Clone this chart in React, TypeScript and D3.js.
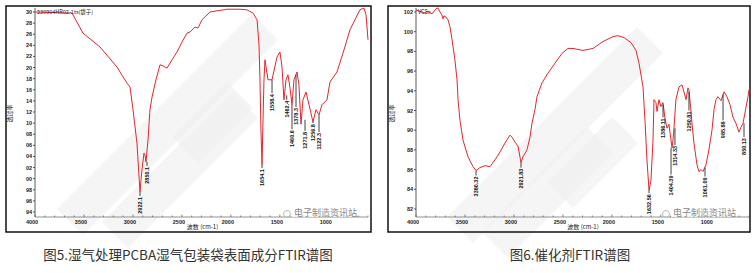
import React from "react";
import * as d3 from "d3";

// ---------- Data ----------
const xTickValues = [4000, 3500, 3000, 2500, 2000, 1500, 1000];

const leftYTicks = [1.30, 1.28, 1.26, 1.24, 1.22, 1.20, 1.18, 1.16, 1.14, 1.12, 1.10, 1.08, 1.06, 1.04, 1.02, 1.00, 0.98, 0.96, 0.94];
const leftYTickLabels = ["30", "28", "26", "24", "22", "20", "18", "16", "14", "12", "10", "08", "06", "04", "02", "00", "98", "96", "94"];

const rightYTicks = [1.02, 1.00, 0.98, 0.96, 0.94, 0.92, 0.90, 0.88, 0.86, 0.84, 0.82];
const rightYTickLabels = ["102", "100", "98", "96", "94", "92", "90", "88", "86", "84", "82"];

const leftWavenumber = [4000, 3622, 3510, 3336, 3163, 3061, 3030, 2999, 2959, 2928, 2908, 2887, 2877, 2867, 2846, 2826, 2805, 2765, 2724, 2693, 2652, 2601, 2550, 2499, 2448, 2417, 2366, 2336, 2295, 2213, 2040, 1907, 1836, 1774, 1733, 1713, 1703, 1693, 1682, 1672, 1662, 1652, 1621, 1580, 1529, 1499, 1478, 1458, 1437, 1417, 1396, 1376, 1356, 1325, 1305, 1284, 1264, 1233, 1202, 1162, 1131, 1100, 1070, 1019, 988, 917, 855, 784, 733, 682, 641, 620, 600];
const leftTransmittance = [1.300, 1.298, 1.262, 1.237, 1.201, 1.172, 1.165, 1.124, 1.064, 0.976, 1.016, 1.046, 1.043, 1.030, 1.070, 1.124, 1.147, 1.178, 1.205, 1.203, 1.199, 1.214, 1.228, 1.246, 1.262, 1.264, 1.273, 1.271, 1.286, 1.300, 1.305, 1.305, 1.304, 1.298, 1.286, 1.241, 1.178, 1.088, 1.025, 1.106, 1.178, 1.214, 1.178, 1.178, 1.219, 1.228, 1.201, 1.142, 1.178, 1.187, 1.163, 1.133, 1.178, 1.192, 1.169, 1.098, 1.142, 1.156, 1.133, 1.102, 1.124, 1.115, 1.133, 1.142, 1.174, 1.192, 1.226, 1.268, 1.286, 1.304, 1.307, 1.295, 1.250];

const leftPeakWavenumber = [2928, 2856, 1682, 1580, 1430, 1376, 1335, 1243, 1162, 1100];
const leftPeakT = [0.976, 1.030, 1.025, 1.178, 1.150, 1.133, 1.187, 1.106, 1.102, 1.115];
const leftLabelT = [0.969, 1.023, 1.019, 1.154, 1.142, 1.089, 1.129, 1.086, 1.100, 1.084];
const leftPeakText = ["2922.1", "2850.1", "1654.1", "1558.4", "1462.4", "1460.6", "1378.3", "1271.8", "1256.8", "1122.3"];

const rightWavenumber = [4000, 3939, 3908, 3877, 3837, 3806, 3786, 3775, 3755, 3735, 3724, 3714, 3694, 3673, 3653, 3632, 3602, 3581, 3571, 3551, 3520, 3469, 3418, 3387, 3347, 3296, 3244, 3193, 3142, 3091, 3040, 3020, 2989, 2959, 2928, 2908, 2867, 2836, 2816, 2785, 2765, 2714, 2652, 2581, 2509, 2448, 2397, 2295, 2193, 2091, 1989, 1938, 1876, 1805, 1754, 1723, 1682, 1662, 1642, 1621, 1601, 1580, 1570, 1550, 1539, 1519, 1499, 1478, 1458, 1437, 1417, 1407, 1386, 1376, 1366, 1346, 1315, 1284, 1264, 1243, 1223, 1213, 1192, 1182, 1162, 1131, 1111, 1090, 1070, 1039, 1009, 978, 957, 937, 917, 886, 855, 825, 794, 763, 733, 702, 682, 661, 631, 610, 600];
const rightTransmittance = [1.022, 1.020, 1.019, 1.021, 1.018, 1.022, 1.024, 1.024, 1.020, 1.017, 1.013, 1.016, 1.015, 1.012, 1.005, 0.992, 0.971, 0.951, 0.931, 0.910, 0.890, 0.873, 0.863, 0.859, 0.862, 0.864, 0.863, 0.870, 0.878, 0.887, 0.895, 0.893, 0.888, 0.884, 0.867, 0.873, 0.880, 0.893, 0.907, 0.921, 0.934, 0.948, 0.958, 0.968, 0.978, 0.983, 0.983, 0.981, 0.983, 0.990, 0.995, 0.996, 0.994, 0.989, 0.981, 0.968, 0.944, 0.910, 0.870, 0.839, 0.849, 0.890, 0.931, 0.928, 0.919, 0.931, 0.924, 0.928, 0.912, 0.902, 0.906, 0.898, 0.882, 0.890, 0.902, 0.931, 0.944, 0.946, 0.939, 0.931, 0.943, 0.941, 0.919, 0.907, 0.887, 0.865, 0.858, 0.860, 0.858, 0.865, 0.880, 0.900, 0.921, 0.931, 0.934, 0.930, 0.939, 0.934, 0.926, 0.913, 0.907, 0.898, 0.903, 0.907, 0.923, 0.934, 0.941];

const rightPeakWavenumber = [3387, 2928, 1621, 1478, 1396, 1356, 1213, 1049, 865, 651];
const rightPeakT = [0.859, 0.867, 0.839, 0.926, 0.882, 0.902, 0.939, 0.862, 0.936, 0.907];
const rightLabelT = [0.854, 0.862, 0.836, 0.913, 0.855, 0.885, 0.920, 0.853, 0.910, 0.893];
const rightPeakText = ["3380.32", "2921.83", "1632.56", "1386.11", "1404.39", "1314.33", "1250.81", "1061.09", "985.88", "850.13"];

const captions = ["图5.湿气处理PCBA湿气包装袋表面成分FTIR谱图", "图6.催化剂FTIR谱图"];
const fileTags = ["230904HR02-1ts(袋子)", "VCSx"];
const yTitle = "透过率";
const xTitle = "波数 (cm-1)";
const watermark = "电子制造资讯站";

const numFont = "'Liberation Sans', Arial, sans-serif";
const cjkFont = "'Noto Sans CJK SC', 'Noto Sans', sans-serif";
const lineColor = "#e3262b";

type PanelProps = {
  frame: [number, number, number, number];
  xRange: [number, number];
  yDomain: [number, number];
  yRange: [number, number];
  axisY: number;
  wn: number[];
  tr: number[];
  yTicks: number[];
  yTickLabels: string[];
  peakWn: number[];
  peakT: number[];
  labelT: number[];
  peakText: string[];
  tag: string;
  bands: number[];
  bandX: [number, number][];
};

function Panel(p: PanelProps) {
  const [fx, fy, fw, fh] = p.frame;
  const x = d3.scaleLinear().domain([4000, 600]).range(p.xRange);
  const y = d3.scaleLinear().domain(p.yDomain).range(p.yRange);
  const pts: [number, number][] = p.wn.map((w, i) => [w, p.tr[i]]);
  const path = d3
    .line<[number, number]>()
    .x((d) => x(d[0]))
    .y((d) => y(d[1]))(pts) as string;
  const minor = d3.range(4000, 599, -100);
  const x0 = p.xRange[0];
  const x1 = p.xRange[1];
  const yTop = fy + 2;

  return (
    <g>
      {/* faint watermark bands */}
      {p.bands.map((s, i) => {
        const [a, b] = p.bandX[i];
        const w = 13;
        const pts2 = [
          [a - w, s - a - w],
          [b - w, s - b - w],
          [b + w, s - b + w],
          [a + w, s - a + w],
        ]
          .map((q) => q.join(","))
          .join(" ");
        return <polygon key={i} points={pts2} fill="#ececec" opacity={0.55} />;
      })}
      <rect x={fx} y={fy} width={fw} height={fh} fill="none" stroke="#111" strokeWidth={1.5} />
      {/* y axis */}
      <line x1={x0} x2={x0} y1={yTop} y2={p.axisY} stroke="#333" strokeWidth={0.8} />
      {p.yTicks.map((t, i) => (
        <g key={i}>
          <line x1={x0 - 2} x2={x0} y1={y(t)} y2={y(t)} stroke="#333" strokeWidth={0.8} />
          <text x={x0 - 3} y={y(t) + 2} fontSize={5.5} fontWeight="bold" textAnchor="end" fontFamily={numFont} fill="#222">
            {p.yTickLabels[i]}
          </text>
        </g>
      ))}
      {/* x axis */}
      <line x1={x0} x2={x1} y1={p.axisY} y2={p.axisY} stroke="#777" strokeWidth={0.8} />
      {minor.map((m) => (
        <line key={m} x1={x(m)} x2={x(m)} y1={p.axisY - (m % 500 === 0 ? 2.5 : 1.5)} y2={p.axisY} stroke="#555" strokeWidth={0.7} />
      ))}
      {xTickValues.map((t) => (
        <text key={t} x={x(t) - 3} y={p.axisY + 7} fontSize={5.5} fontWeight="bold" textAnchor="middle" fontFamily={numFont} fill="#222">
          {t}
        </text>
      ))}
      {/* spectrum */}
      <path d={path} fill="none" stroke={lineColor} strokeWidth={1} strokeLinejoin="round" />
      {/* peak labels */}
      {p.peakWn.map((w, i) => {
        const px = x(w);
        const py = y(p.peakT[i]);
        const ly = y(p.labelT[i]);
        return (
          <g key={i}>
            <line x1={px} x2={px} y1={py} y2={ly} stroke="#111" strokeWidth={0.8} />
            <text
              transform={`translate(${px + 2},${ly + 1}) rotate(-90)`}
              fontSize={5.5}
              fontWeight="bold"
              textAnchor="end"
              fontFamily={numFont}
              fill="#111"
            >
              {p.peakText[i]}
            </text>
          </g>
        );
      })}
      {/* file tag */}
      <text x={x0 + 2} y={fy + 8} fontSize={5.5} fontFamily={cjkFont} fill="#222">
        {p.tag}
      </text>
      {/* axis titles */}
      <text transform={`translate(${fx + 6},${(fy + p.axisY) / 2 + 2}) rotate(-90)`} fontSize={6} textAnchor="middle" fontFamily={cjkFont} fill="#222">
        {yTitle}
      </text>
      <text x={fx + fw / 2 + 14} y={fy + fh - 3} fontSize={6} fontFamily={cjkFont} fill="#222" textAnchor="middle">
        {xTitle}
      </text>
      {/* watermark */}
      <circle cx={fx + fw - 84} cy={p.axisY - 3} r={3.5} fill="none" stroke="#bbb" strokeWidth={1} />
      <rect x={fx + fw - 79} y={p.axisY - 10} width={63} height={10} fill="#fff" opacity={0.75} />
      <text x={fx + fw - 77} y={p.axisY - 1.5} fontSize={9} fontFamily={cjkFont} fill="#888">
        {watermark}
      </text>
    </g>
  );
}

export default function App() {
  return (
    <svg
      width={756}
      height={273}
      viewBox="0 0 756 273"
      style={{ position: "absolute", left: 0, top: 0, background: "#fff" }}
    >
      <rect x={0} y={0} width={756} height={273} fill="#fff" />
      <Panel
        frame={[6, 6, 365, 226]}
        xRange={[35, 368]}
        yDomain={[1.30, 0.94]}
        yRange={[12, 212]}
        axisY={217}
        wn={leftWavenumber}
        tr={leftTransmittance}
        yTicks={leftYTicks}
        yTickLabels={leftYTickLabels}
        peakWn={leftPeakWavenumber}
        peakT={leftPeakT}
        labelT={leftLabelT}
        peakText={leftPeakText}
        tag={fileTags[0]}
        bands={[292, 350, 335]}
        bandX={[[70, 265], [115, 245], [185, 240]]}
      />
      <Panel
        frame={[388, 6, 362, 226]}
        xRange={[416, 749]}
        yDomain={[1.02, 0.82]}
        yRange={[12, 209]}
        axisY={217}
        wn={rightWavenumber}
        tr={rightTransmittance}
        yTicks={rightYTicks}
        yTickLabels={rightYTickLabels}
        peakWn={rightPeakWavenumber}
        peakT={rightPeakT}
        labelT={rightLabelT}
        peakText={rightPeakText}
        tag={fileTags[1]}
        bands={[690, 740, 755]}
        bandX={[[460, 650], [495, 600], [560, 625]]}
      />
      <text x={188} y={260} fontSize={13.5} fontFamily={cjkFont} fill="#333" textAnchor="middle">
        {captions[0]}
      </text>
      <text x={570} y={260} fontSize={13.5} fontFamily={cjkFont} fill="#333" textAnchor="middle">
        {captions[1]}
      </text>
    </svg>
  );
}
